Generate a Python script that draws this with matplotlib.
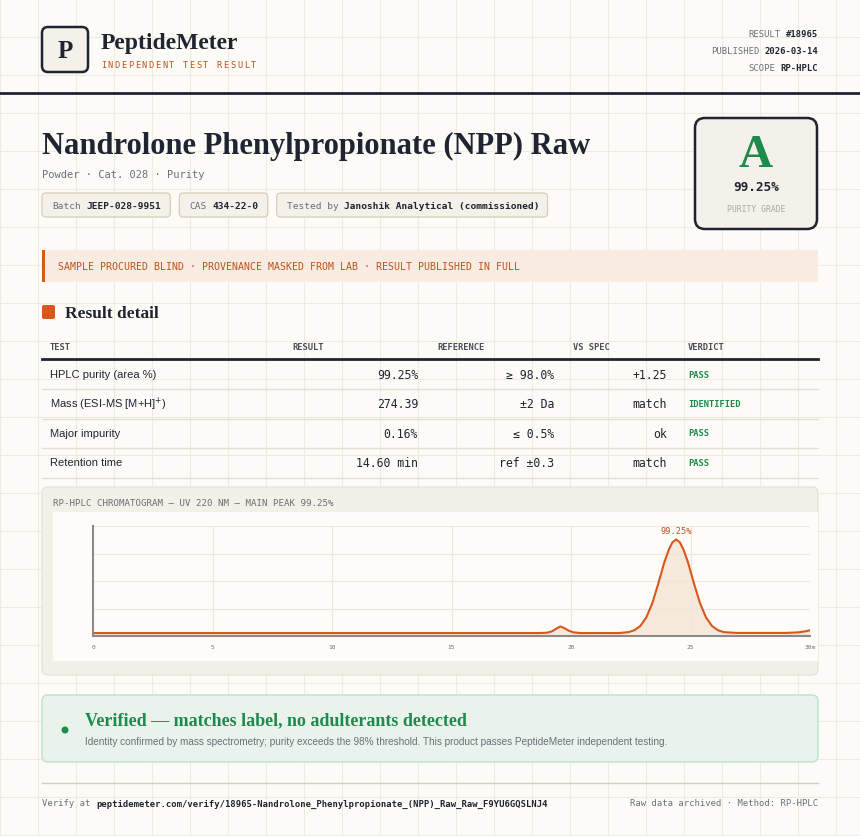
import matplotlib
matplotlib.use("Agg")
import matplotlib.pyplot as plt
from matplotlib.patches import FancyBboxPatch, Rectangle, Circle

# --- data ---
meta_keys = ["RESULT", "PUBLISHED", "SCOPE"]
meta_vals = ["#18965", "2026-03-14", "RP-HPLC"]
chips_k = ["Batch", "CAS", "Tested by"]
chips_v = ["JEEP-028-9951", "434-22-0", "Janoshik Analytical (commissioned)"]
col_names = ["TEST", "RESULT", "REFERENCE", "VS SPEC", "VERDICT"]
tests = ["HPLC purity (area %)", "Mass (ESI-MS [M+H]$^{+}$)", "Major impurity", "Retention time"]
results = ["99.25%", "274.39", "0.16%", "14.60 min"]
refs = ["≥ 98.0%", "±2 Da", "≤ 0.5%", "ref ±0.3"]
vs_spec = ["+1.25", "match", "ok", "match"]
verdicts = ["PASS", "IDENTIFIED", "PASS", "PASS"]

# chromatogram points (min, % full scale)
rt = [0, 18.7, 19.0, 19.2, 19.4, 19.55, 19.7, 19.9, 20.1, 20.4, 22.0, 22.4, 22.65, 22.9,
      23.15, 23.4, 23.65, 23.9, 24.1, 24.25, 24.4, 24.55, 24.7, 24.9, 25.15, 25.4,
      25.65, 25.9, 26.15, 26.4, 26.9, 29.0, 29.5, 29.8, 30.0]
signal = [2.7, 2.7, 3.0, 4.2, 6.9, 8.7, 7.4, 4.9, 3.3, 2.7, 2.7, 3.5, 5.2, 9.1,
          16.8, 29.7, 47.4, 66.7, 78.9, 85.3, 87.7, 85.3, 78.9, 66.7, 47.4, 29.7,
          16.8, 9.1, 5.2, 3.5, 2.8, 2.8, 3.3, 4.2, 5.2]
main_peak_label = "99.25%"

INK = "#1f2430"
ORANGE = "#d9571a"
GREEN = "#1e8a4c"
GRAY = "#6b6f78"
SERIF = "Liberation Serif"
MONO = "DejaVu Sans Mono"
SANS = "Liberation Sans"

fig = plt.figure(figsize=(8.6, 8.37), dpi=100)
fig.patch.set_facecolor("#fcfbf7")
ax = fig.add_axes([0, 0, 1, 1])
ax.set_xlim(0, 860)
ax.set_ylim(837, 0)
ax.axis("off")

for g in range(0, 861, 38):
    ax.plot([g, g], [0, 837], color="#eeebe3", lw=0.8, zorder=0)
for g in range(0, 838, 38):
    ax.plot([0, 860], [g, g], color="#eeebe3", lw=0.8, zorder=0)


def box(x, y, w, h, fc, ec, lw=1, r=4, z=1):
    ax.add_patch(FancyBboxPatch((x, y), w, h, boxstyle=f"round,pad=0,rounding_size={r}",
                                fc=fc, ec=ec, lw=lw, zorder=z))


# header
box(42, 28, 46, 45, "#f4f1ea", INK, lw=1.8, r=6)
ax.text(65, 51, "P", family=SERIF, weight="bold", fontsize=18, color=INK, ha="center", va="center")
ax.text(101, 43, "PeptideMeter", family=SERIF, weight="bold", fontsize=17, color=INK, va="center")
for i, ch in enumerate("INDEPENDENT TEST RESULT"):
    ax.text(101 + i * 6.8, 65, ch, family=MONO, fontsize=6.2, color="#c0521a", va="center")
for i, (k, v) in enumerate(zip(meta_keys, meta_vals)):
    yy = 34 + i * 17
    ax.text(818, yy, v, family=MONO, weight="bold", fontsize=6.4, color=INK, ha="right", va="center")
    ax.text(818 - len(v) * 5.35 - 5, yy, k, family=MONO, fontsize=6.4, color=GRAY, ha="right", va="center")
ax.plot([0, 860], [94, 94], color=INK, lw=2)

# title block
ax.text(42, 146, "Nandrolone Phenylpropionate (NPP) Raw", family=SERIF, weight="bold",
        fontsize=22, color=INK, va="center")
ax.text(42, 175, "Powder · Cat. 028 · Purity", family=MONO, fontsize=7.5, color=GRAY, va="center")
cx = 42
cw = 5.7
for k, v in zip(chips_k, chips_v):
    w = (len(k) + len(v) + 1) * cw + 20
    box(cx, 194, w, 24, "#f4f1ea", "#d8cdb6", lw=0.9, r=4)
    ax.text(cx + 10, 206, k, family=MONO, fontsize=6.8, color=GRAY, va="center")
    ax.text(cx + 10 + (len(k) + 1) * cw, 206, v, family=MONO, weight="bold", fontsize=6.8,
            color=INK, va="center")
    cx += w + 9

box(695, 119, 122, 111, "#f4f1ea", INK, lw=1.8, r=10)
ax.text(756, 156, "A", family=SERIF, weight="bold", fontsize=34, color=GREEN, ha="center", va="center")
ax.text(756, 187, "99.25%", family=MONO, weight="bold", fontsize=9.2, color=INK, ha="center", va="center")
ax.text(756, 209, "PURITY GRADE", family=MONO, fontsize=5.8, color="#a9a9a9", ha="center", va="center")

# banner
ax.add_patch(Rectangle((42, 251), 776, 32, fc="#f8ece2", ec="none", zorder=1))
ax.add_patch(Rectangle((42, 251), 3, 32, fc=ORANGE, ec="none", zorder=2))
ax.text(58, 267, "SAMPLE PROCURED BLIND · PROVENANCE MASKED FROM LAB · RESULT PUBLISHED IN FULL",
        family=MONO, fontsize=7.1, color="#c0521a", va="center")

# result detail
box(42, 306, 13, 14, ORANGE, "none", r=2)
ax.text(65, 314, "Result detail", family=SERIF, weight="bold", fontsize=12.5, color=INK, va="center")
hx = [50, 292, 437, 573, 688]
for x, c in zip(hx, col_names):
    ax.text(x, 347, c, family=MONO, weight="bold", fontsize=6.3, color="#4a4f5a", va="center")
ax.plot([42, 818], [360, 360], color=INK, lw=2)
for i in range(len(tests)):
    yy = 375 + i * 29.5
    ax.text(50, yy, tests[i], family=SANS, fontsize=8, color=INK, va="center")
    ax.text(418, yy, results[i], family=MONO, fontsize=8.3, color=INK, ha="right", va="center")
    ax.text(554, yy, refs[i], family=MONO, fontsize=8.3, color=INK, ha="right", va="center")
    ax.text(667, yy, vs_spec[i], family=MONO, fontsize=8.3, color=INK, ha="right", va="center")
    ax.text(688, yy, verdicts[i], family=MONO, weight="bold", fontsize=6.3, color=GREEN, va="center")
    ax.plot([42, 818], [yy + 15, yy + 15], color="#e5dfd2", lw=1)

# chromatogram panel
box(42, 488, 776, 188, "#f3f0e8", "#e5dfd2", lw=0.8, r=6)
ax.text(53, 503, "RP-HPLC CHROMATOGRAM — UV 220 NM — MAIN PEAK 99.25%", family=MONO,
        fontsize=6.6, color=GRAY, va="center")
ax.add_patch(Rectangle((53, 513), 765, 149, fc="#fdfcf8", ec="none", zorder=1))

cax = fig.add_axes([93 / 860, 1 - 637 / 837, 717 / 860, 110 / 837])
cax.set_facecolor("none")
cax.set_xlim(0, 30)
cax.set_ylim(0, 100)
cax.set_xticks([0, 5, 10, 15, 20, 25, 30])
cax.set_xticklabels(["0", "5", "10", "15", "20", "25", "30m"], family=MONO, fontsize=4.5, color=GRAY)
cax.set_yticks([25, 50, 75, 100])
cax.set_yticklabels([])
cax.tick_params(length=0, pad=6)
cax.grid(True, color="#ece7dc", lw=0.8)
for s in ["top", "right"]:
    cax.spines[s].set_visible(False)
for s in ["left", "bottom"]:
    cax.spines[s].set_color("#8a8a8a")
    cax.spines[s].set_linewidth(1.5)
cax.fill_between(rt, signal, color="#f5e3d3", alpha=0.8, lw=0)
cax.plot(rt, signal, color=ORANGE, lw=1.5)
top = signal.index(max(signal))
cax.text(rt[top], max(signal) + 4, main_peak_label, family=MONO, fontsize=6.2, color="#c0521a",
         ha="center", va="bottom")

# verified box
box(42, 696, 776, 67, "#e9f3ec", "#bfe0cb", lw=1, r=6)
ax.add_patch(Circle((65, 731), 3.5, fc=GREEN, ec="none", zorder=3))
ax.text(85, 721, "Verified — matches label, no adulterants detected", family=SERIF, weight="bold",
        fontsize=13, color=GREEN, va="center")
ax.text(85, 742, "Identity confirmed by mass spectrometry; purity exceeds the 98% threshold. "
        "This product passes PeptideMeter independent testing.", family=SANS,
        fontsize=7.2, color=GRAY, va="center")

# footer
ax.plot([42, 818], [784, 784], color="#d8cdb6", lw=1)
ax.text(42, 804, "Verify at", family=MONO, fontsize=6.4, color=GRAY, va="center")
ax.text(96, 804, "peptidemeter.com/verify/18965-Nandrolone_Phenylpropionate_(NPP)_Raw_Raw_F9YU6GQSLNJ4",
        family=MONO, weight="bold", fontsize=6.4, color=INK, va="center")
ax.text(818, 804, "Raw data archived · Method: RP-HPLC", family=MONO, fontsize=6.4, color=GRAY,
        ha="right", va="center")

fig.savefig("out.png", dpi=100, facecolor=fig.get_facecolor())
